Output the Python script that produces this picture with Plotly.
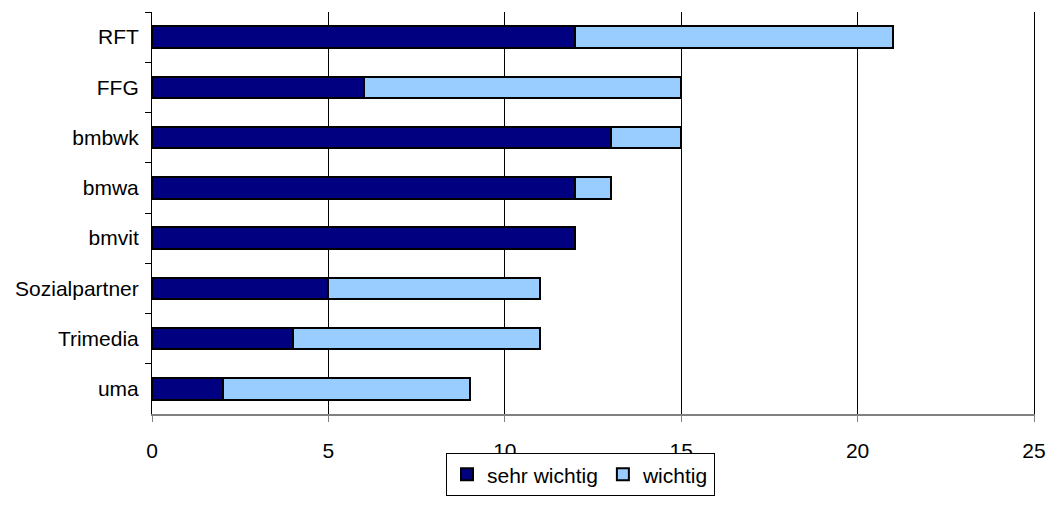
import plotly.graph_objects as go

# Institutions, listed top to bottom
categories = ["RFT", "FFG", "bmbwk", "bmwa", "bmvit", "Sozialpartner", "Trimedia", "uma"]
sehr_wichtig = [12, 6, 13, 12, 12, 5, 4, 2]
wichtig = [9, 9, 2, 1, 0, 6, 7, 7]
x_ticks = [0, 5, 10, 15, 20, 25]

FONT = "Liberation Sans, Arial, sans-serif"

fig = go.Figure()
fig.add_trace(go.Bar(
    y=categories, x=sehr_wichtig, orientation="h", name="sehr wichtig",
    marker=dict(color="#000080", line=dict(color="#000000", width=2)),
))
fig.add_trace(go.Bar(
    y=categories, x=wichtig, orientation="h", name="wichtig",
    marker=dict(color="#99CCFF", line=dict(color="#000000", width=2)),
))

fig.update_layout(
    barmode="stack",
    bargap=0.57,
    width=1058, height=508,
    margin=dict(l=152, r=15, t=12, b=86),
    paper_bgcolor="white", plot_bgcolor="white",
    font=dict(family=FONT, size=21, color="black"),
    showlegend=True,
    legend=dict(
        orientation="h",
        x=(449 - 152) / 891, xanchor="left",
        y=-(462 - 422) / 410, yanchor="top",
        bordercolor="#000000", borderwidth=1,
        font=dict(family=FONT, size=21, color="black"),
        itemwidth=30,
        traceorder="normal",
    ),
)

fig.update_xaxes(
    range=[0, 25], tickvals=x_ticks, ticktext=[str(v) for v in x_ticks],
    showgrid=True, gridcolor="#000000", gridwidth=1,
    showline=True, linecolor="#808080", linewidth=2,
    ticks="outside", ticklen=6, tickcolor="#808080", tickwidth=1,
    ticklabelstandoff=11,
    zeroline=False, fixedrange=True,
)
fig.update_yaxes(
    categoryorder="array", categoryarray=categories, autorange="reversed",
    showline=True, mirror=True, linecolor="#000000", linewidth=1,
    ticks="outside", ticklen=6, tickcolor="#000000", tickwidth=1,
    tickson="boundaries", ticklabelstandoff=8,
    showgrid=False, fixedrange=True,
)

fig.write_html("out.html")
